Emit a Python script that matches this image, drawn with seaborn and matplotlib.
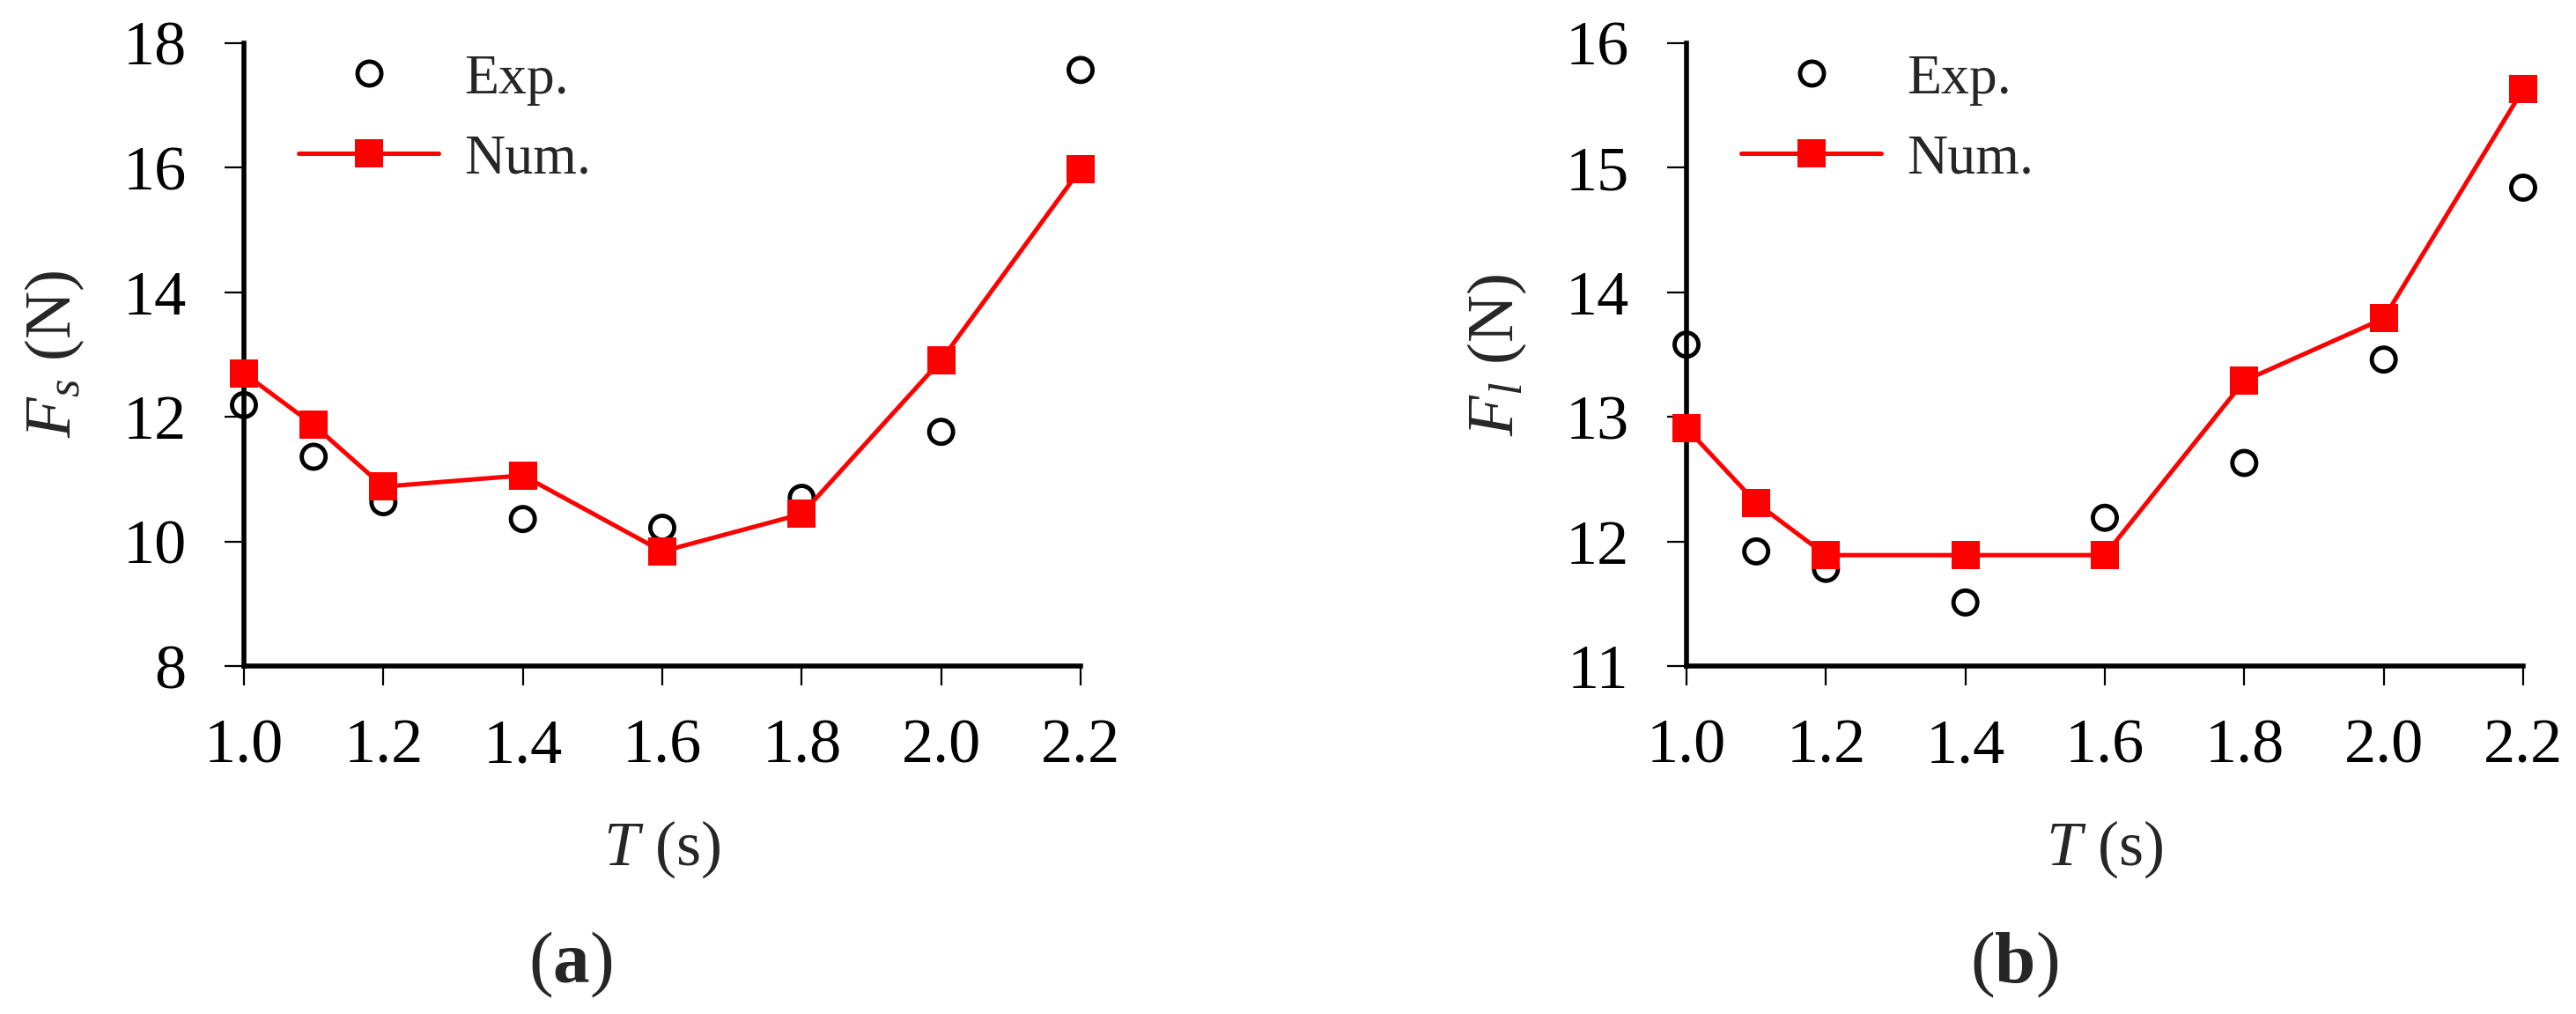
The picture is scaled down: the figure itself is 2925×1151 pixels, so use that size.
import matplotlib
matplotlib.use("Agg")
import matplotlib.pyplot as plt
from matplotlib.lines import Line2D
import seaborn as sns

# Wave period T (s)
period = [1.0, 1.1, 1.2, 1.4, 1.6, 1.8, 2.0, 2.2]
x_ticks = [1.0, 1.2, 1.4, 1.6, 1.8, 2.0, 2.2]

# (a) Fs (N)
fs_exp = [12.19, 11.36, 10.63, 10.36, 10.22, 10.70, 11.76, 17.57]
fs_num = [12.70, 11.87, 10.88, 11.06, 9.84, 10.44, 12.91, 15.98]

# (b) Fl (N)
fl_exp = [13.58, 11.92, 11.78, 11.51, 12.19, 12.63, 13.46, 14.84]
fl_num = [12.91, 12.31, 11.89, 11.89, 11.89, 13.29, 13.79, 15.63]

sns.set_theme(style="ticks")
plt.rcParams["font.family"] = ["Liberation Serif", "DejaVu Serif"]
plt.rcParams["mathtext.fontset"] = "custom"
plt.rcParams["mathtext.rm"] = "Liberation Serif"
plt.rcParams["mathtext.it"] = "Liberation Serif:italic"
plt.rcParams["mathtext.bf"] = "Liberation Serif:bold"

fig = plt.figure(figsize=(29.25, 11.51), dpi=100)
W, H = 2925, 1151
ax_a = fig.add_axes([277 / W, (H - 756) / H, 950 / W, 707 / H])
ax_b = fig.add_axes([1915 / W, (H - 756) / H, 950 / W, 707 / H])


def draw_panel(ax, exp, num, ylim, yticks, ylabel, tag, tag_x):
    # experimental points: open circles
    sns.scatterplot(x=period, y=exp, ax=ax, marker="o", s=380,
                    facecolor="none", edgecolor="black", linewidth=3.5,
                    clip_on=False, zorder=3)
    # numerical results: red line with squares
    sns.lineplot(x=period, y=num, ax=ax, color="red", linewidth=3.6,
                 marker="s", markersize=23, markeredgewidth=0,
                 clip_on=False, zorder=4)
    ax.set_xlim(1.0, 2.2)
    ax.set_ylim(*ylim)
    ax.set_xticks(x_ticks)
    ax.set_xticklabels([f"{t:.1f}" for t in x_ticks])
    ax.set_yticks(yticks)
    sns.despine(ax=ax)
    for side in ["left", "bottom"]:
        ax.spines[side].set_linewidth(4)
        ax.spines[side].set_color("black")
    ax.tick_params(axis="x", direction="out", length=16, width=1.6,
                   labelsize=52, pad=27, colors="black")
    ax.tick_params(axis="y", direction="out", length=16, width=1.6,
                   labelsize=52, pad=31, colors="black")
    ax.set_xlabel("$T$ (s)", fontsize=52)
    ax.xaxis.set_label_coords(0.5, -0.245)
    ax.set_ylabel(ylabel, fontsize=54)
    ax.yaxis.set_label_coords(-0.188, 0.5)

    handles = [
        Line2D([], [], linestyle="none", marker="o", markersize=19.5,
               markerfacecolor="none", markeredgecolor="black",
               markeredgewidth=3.5),
        Line2D([], [], color="red", linewidth=3.6, marker="s",
               markersize=23, markeredgewidth=0),
    ]
    ax.legend(handles, ["Exp.", "Num."], loc="upper left",
              bbox_to_anchor=(0.065, 0.983), frameon=False, fontsize=46,
              handlelength=2.5, handletextpad=0.45, labelspacing=0.5,
              borderpad=0, borderaxespad=0)
    fig.text(tag_x / W, 1 - 1095 / H, tag, fontsize=60,
             ha="center", va="center")


draw_panel(ax_a, fs_exp, fs_num, (8, 18), [8, 10, 12, 14, 16, 18],
           "$F_s$ (N)", r"($\mathbf{a}$)", 648)
draw_panel(ax_b, fl_exp, fl_num, (11, 16), [11, 12, 13, 14, 15, 16],
           "$F_l$ (N)", r"($\mathbf{b}$)", 2287)

fig.savefig("out.png", dpi=100, facecolor="white")
